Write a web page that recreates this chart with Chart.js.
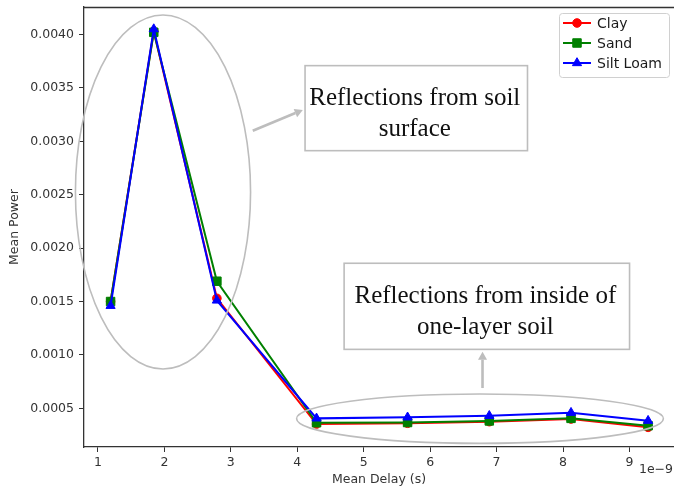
<!DOCTYPE html>
<html>
<head>
<meta charset="utf-8">
<script src="https://cdn.jsdelivr.net/npm/chart.js@4/dist/chart.umd.min.js"></script>
<style>
  html, body { margin: 0; padding: 0; background: #fff; overflow: hidden; }
  #wrap { width: 674px; height: 489px; position: relative; }
</style>
</head>
<body>
<div id="wrap"><canvas id="chart"></canvas></div>
<script>
// mean delay (x1e-9 s)
const meanDelay = [1.19, 1.84, 2.79, 4.29, 5.66, 6.89, 8.12, 9.28];
const clayPower = [0.00150, 0.00403, 0.00153, 0.000353, 0.000360, 0.000375, 0.000400, 0.000322];
const sandPower = [0.00150, 0.00402, 0.00169, 0.000365, 0.000367, 0.000382, 0.000406, 0.000337];
const siltPower = [0.00146, 0.00405, 0.00151, 0.000406, 0.000416, 0.000430, 0.000459, 0.000384];
const seriesNames = ['Clay', 'Sand', 'Silt Loam'];
const xTicks = [1, 2, 3, 4, 5, 6, 7, 8, 9];
const yTicks = [0.0005, 0.0010, 0.0015, 0.0020, 0.0025, 0.0030, 0.0035, 0.0040];

const colors = ['#ff0000', '#008000', '#0000ff'];
const markers = ['circle', 'rect', 'triangle'];
const markerSize = [4.3, 6, 5.3];

// annotation shapes, in data units
const ellipses = [
    { cx: 1.979, cy: 0.002525, rx: 1.318, ry: 0.001657 },
    { cx: 6.75, cy: 0.000403, rx: 2.76, ry: 0.000231 }
];
const boxes = [
    { x0: 4.117, x1: 7.465, y0: 0.003708, y1: 0.002912, lines: ['Reflections from soil', 'surface'] },
    { x0: 4.705, x1: 9.001, y0: 0.001858, y1: 0.001052, lines: ['Reflections from inside of', 'one-layer soil'] }
];
const arrows = [
    { x0: 3.33, y0: 0.003099, x1: 4.083, y1: 0.003293 },
    { x0: 6.788, y0: 0.00069, x1: 6.788, y1: 0.00103 }
];

const tickFont = { family: 'DejaVu Sans', size: 12.5 };
const axisGray = '#333333';
const annoGray = '#bdbdbd';

function makeData(values) {
    return meanDelay.map((x, i) => ({ x: x, y: values[i] }));
}

const allSeries = [clayPower, sandPower, siltPower];

// annotations, frame line, legend and offset text
const overlayPlugin = {
    id: 'overlay',
    afterDatasetsDraw(chart) {
        const ctx = chart.ctx;
        const xs = chart.scales.x;
        const ys = chart.scales.y;
        const area = chart.chartArea;
        ctx.save();

        // top spine
        ctx.strokeStyle = axisGray;
        ctx.lineWidth = 1.3;
        ctx.beginPath();
        ctx.moveTo(area.left, area.top + 0.5);
        ctx.lineTo(area.right, area.top + 0.5);
        ctx.stroke();

        // ellipses
        ctx.strokeStyle = annoGray;
        ctx.lineWidth = 1.6;
        ellipses.forEach(e => {
            const cx = xs.getPixelForValue(e.cx);
            const cy = ys.getPixelForValue(e.cy);
            const rx = xs.getPixelForValue(e.cx + e.rx) - cx;
            const ry = cy - ys.getPixelForValue(e.cy + e.ry);
            ctx.beginPath();
            ctx.ellipse(cx, cy, rx, ry, 0, 0, Math.PI * 2);
            ctx.stroke();
        });

        // arrows
        arrows.forEach(a => {
            const x0 = xs.getPixelForValue(a.x0), y0 = ys.getPixelForValue(a.y0);
            const x1 = xs.getPixelForValue(a.x1), y1 = ys.getPixelForValue(a.y1);
            const ang = Math.atan2(y1 - y0, x1 - x0);
            const hl = 8, hw = 4.5;
            const bx = x1 - hl * Math.cos(ang), by = y1 - hl * Math.sin(ang);
            ctx.strokeStyle = annoGray;
            ctx.lineWidth = 2.6;
            ctx.beginPath();
            ctx.moveTo(x0, y0);
            ctx.lineTo(bx, by);
            ctx.stroke();
            ctx.fillStyle = annoGray;
            ctx.beginPath();
            ctx.moveTo(x1, y1);
            ctx.lineTo(bx + hw * Math.sin(ang), by - hw * Math.cos(ang));
            ctx.lineTo(bx - hw * Math.sin(ang), by + hw * Math.cos(ang));
            ctx.closePath();
            ctx.fill();
        });

        // text boxes
        boxes.forEach(b => {
            const l = xs.getPixelForValue(b.x0), r = xs.getPixelForValue(b.x1);
            const t = ys.getPixelForValue(b.y0), bt = ys.getPixelForValue(b.y1);
            ctx.fillStyle = '#ffffff';
            ctx.fillRect(l, t, r - l, bt - t);
            ctx.strokeStyle = annoGray;
            ctx.lineWidth = 1.6;
            ctx.strokeRect(l, t, r - l, bt - t);
            ctx.fillStyle = '#111111';
            ctx.font = '25px "Liberation Serif"';
            ctx.textAlign = 'center';
            ctx.textBaseline = 'alphabetic';
            const cx = (l + r) / 2 - 1.5;
            const cy = (t + bt) / 2;
            ctx.fillText(b.lines[0], cx, cy - 3);
            ctx.fillText(b.lines[1], cx, cy + 28);
        });

        // legend
        const lw = 110, lh = 64;
        const lx = area.right - 5 - lw, ly = area.top + 6;
        ctx.fillStyle = 'rgba(255,255,255,0.85)';
        ctx.strokeStyle = '#d0d0d0';
        ctx.lineWidth = 1;
        ctx.beginPath();
        ctx.roundRect(lx + 0.5, ly + 0.5, lw, lh, 3);
        ctx.fill();
        ctx.stroke();
        ctx.font = '14px "DejaVu Sans"';
        ctx.textAlign = 'left';
        ctx.textBaseline = 'middle';
        seriesNames.forEach((name, i) => {
            const yy = ly + 10 + i * 20;
            ctx.strokeStyle = colors[i];
            ctx.lineWidth = 2;
            ctx.beginPath();
            ctx.moveTo(lx + 4, yy);
            ctx.lineTo(lx + 32, yy);
            ctx.stroke();
            ctx.fillStyle = colors[i];
            ctx.lineWidth = 1;
            Chart.helpers.drawPoint(ctx, {
                pointStyle: markers[i], radius: markerSize[i], borderWidth: 1
            }, lx + 18, yy);
            ctx.fillStyle = '#1a1a1a';
            ctx.fillText(name, lx + 38, yy + 1);
        });

        // axis offset text
        ctx.font = '12.5px "DejaVu Sans"';
        ctx.fillStyle = '#333333';
        ctx.textAlign = 'right';
        ctx.textBaseline = 'middle';
        ctx.fillText('1e\u22129', chart.width - 1, 470);

        ctx.restore();
    }
};

function initChart() {
    const ctx = document.getElementById('chart').getContext('2d');
    new Chart(ctx, {
        type: 'line',
        data: {
            datasets: allSeries.map((vals, i) => ({
                label: seriesNames[i],
                data: makeData(vals),
                borderColor: colors[i],
                backgroundColor: colors[i],
                borderWidth: 2,
                pointStyle: markers[i],
                pointRadius: markerSize[i],
                pointBorderWidth: 1,
                tension: 0,
                fill: false,
                clip: false,
                order: 2 - i
            }))
        },
        options: {
            responsive: true,
            maintainAspectRatio: false,
            animation: false,
            devicePixelRatio: 1,
            layout: { autoPadding: false, padding: { top: 7, right: 0, bottom: 0, left: 0 } },
            plugins: {
                legend: { display: false },
                tooltip: { enabled: false }
            },
            scales: {
                x: {
                    type: 'linear',
                    min: 0.79,
                    max: 9.67,
                    afterFit: (s) => { s.height = 42; s.paddingLeft = 0; s.paddingRight = 0; },
                    afterBuildTicks: (s) => { s.ticks = xTicks.map(v => ({ value: v })); },
                    grid: { drawOnChartArea: false, tickLength: 5, tickColor: axisGray, tickWidth: 1 },
                    border: { color: axisGray, width: 1.3 },
                    ticks: { font: tickFont, color: '#333333', padding: 3, maxRotation: 0,
                             callback: (v) => String(v) },
                    title: { display: true, text: 'Mean Delay (s)', font: tickFont, color: '#333333',
                             padding: { top: 0, bottom: 1.5 } }
                },
                y: {
                    type: 'linear',
                    min: 0.000138,
                    max: 0.004257,
                    afterFit: (s) => { s.width = 84; s.paddingTop = 0; s.paddingBottom = 0; },
                    afterBuildTicks: (s) => { s.ticks = yTicks.map(v => ({ value: v })); },
                    grid: { drawOnChartArea: false, tickLength: 5, tickColor: axisGray, tickWidth: 1 },
                    border: { color: axisGray, width: 1.3 },
                    ticks: { font: tickFont, color: '#333333', padding: 5,
                             callback: (v) => Number(v).toFixed(4) },
                    title: { display: true, text: 'Mean Power', font: tickFont, color: '#333333',
                             padding: { top: 7.5, bottom: 0 } }
                }
            }
        },
        plugins: [overlayPlugin]
    });
}

window.addEventListener('load', () => {
    initChart();
});
</script>
</body>
</html>
